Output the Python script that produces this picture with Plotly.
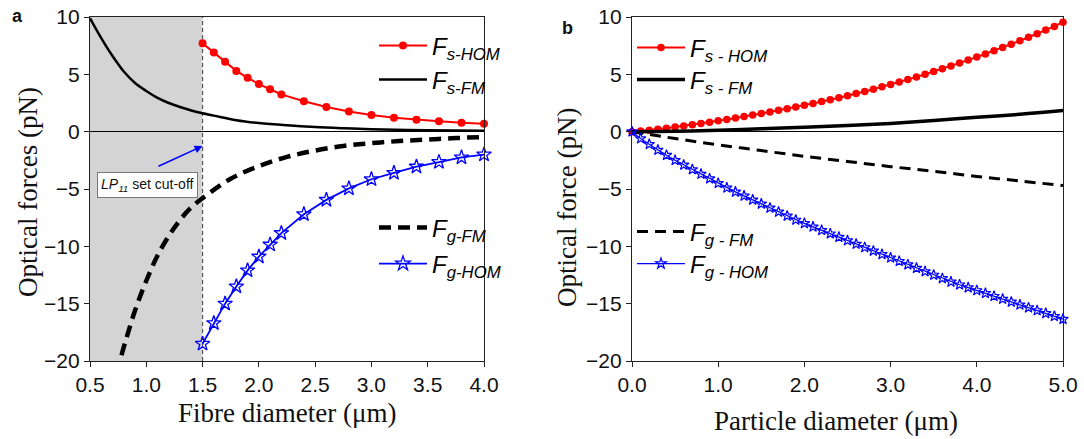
import plotly.graph_objects as go

# ---------------- data: panel a (fibre diameter) ----------------
x_hom = [1.5, 1.6, 1.7, 1.8, 1.9, 2.0, 2.1, 2.2, 2.4, 2.6, 2.8, 3.0, 3.2, 3.4, 3.6, 3.8, 4.0]
fs_hom_a = [7.7, 6.9, 6.1, 5.3, 4.7, 4.15, 3.7, 3.25, 2.65, 2.15, 1.75, 1.45, 1.22, 1.05, 0.9, 0.78, 0.68]
fg_hom_a = [-18.5, -16.7, -15.0, -13.5, -12.1, -10.9, -9.85, -8.85, -7.2, -5.95, -4.95, -4.15, -3.6, -3.05, -2.65, -2.25, -2.0]

x_sfm_a = [0.5, 0.55, 0.6, 0.65, 0.7, 0.75, 0.8, 0.9, 1.0, 1.1, 1.2, 1.3, 1.4, 1.5, 1.6, 1.8, 2.0, 2.25, 2.5, 2.75, 3.0, 3.5, 4.0]
fs_fm_a = [9.9, 9.0, 8.15, 7.35, 6.6, 5.9, 5.25, 4.25, 3.55, 2.95, 2.5, 2.15, 1.85, 1.6, 1.4, 1.0, 0.75, 0.55, 0.4, 0.3, 0.22, 0.13, 0.08]

x_gfm_a = [0.78, 0.8, 0.9, 1.0, 1.1, 1.2, 1.3, 1.4, 1.5, 1.75, 2.0, 2.25, 2.5, 2.75, 3.0, 3.25, 3.5, 3.75, 4.0]
fg_fm_a = [-19.5, -18.8, -15.6, -13.0, -10.8, -9.1, -7.7, -6.6, -5.8, -4.1, -3.0, -2.2, -1.65, -1.25, -1.0, -0.82, -0.68, -0.56, -0.46]

# ---------------- data: panel b (particle diameter) ----------------
x_b = [round(i * 0.1, 1) for i in range(51)]
fs_hom_b = [0.00, 0.06, 0.13, 0.21, 0.30, 0.40, 0.50, 0.61, 0.72, 0.83,
            0.95, 1.07, 1.19, 1.32, 1.45, 1.58, 1.72, 1.86, 2.00, 2.15,
            2.30, 2.46, 2.62, 2.79, 2.96, 3.14, 3.32, 3.51, 3.71, 3.91,
            4.12, 4.33, 4.55, 4.77, 5.00, 5.24, 5.48, 5.73, 5.98, 6.24,
            6.51, 6.78, 7.06, 7.34, 7.63, 7.93, 8.23, 8.54, 8.86, 9.18, 9.55]
fg_hom_b = [0.0, -0.6, -1.1, -1.6, -2.05, -2.5, -2.9, -3.3, -3.7, -4.1,
            -4.5, -4.9, -5.25, -5.6, -5.95, -6.3, -6.65, -7.0, -7.35, -7.7,
            -8.0, -8.3, -8.6, -8.9, -9.2, -9.5, -9.8, -10.1, -10.4, -10.7,
            -11.0, -11.3, -11.6, -11.9, -12.2, -12.5, -12.8, -13.1, -13.35, -13.6,
            -13.85, -14.1, -14.35, -14.6, -14.85, -15.1, -15.35, -15.6, -15.85, -16.1, -16.35]
x_b_fm = [0.0, 0.5, 1.0, 1.5, 2.0, 2.5, 3.0, 3.5, 4.0, 4.5, 5.0]
fs_fm_b = [0.0, 0.03, 0.12, 0.25, 0.38, 0.53, 0.72, 0.98, 1.25, 1.52, 1.85]
fg_fm_b = [0.0, -0.6, -1.15, -1.65, -2.15, -2.6, -3.05, -3.45, -3.9, -4.3, -4.7]

xticks_a = [0.5, 1.0, 1.5, 2.0, 2.5, 3.0, 3.5, 4.0]
xticks_b = [0.0, 1.0, 2.0, 3.0, 4.0, 5.0]
yticks = [-20, -15, -10, -5, 0, 5, 10]

W, H = 1084, 439
def px(v):
    return v / W
def py(v):
    return 1 - v / H

SANS = "Liberation Sans, Arial, sans-serif"
SERIF = "Liberation Serif, Times New Roman, serif"
RED = "#ff0000"
BLUE = "#0000ff"

def lab(sub):
    return "<i>F<sub>" + sub + "</sub></i>"

fig = go.Figure()

# panel a
fig.add_trace(go.Scatter(x=x_hom, y=fs_hom_a, mode="lines+markers", name=lab("s-HOM"),
                         line=dict(color=RED, width=2), marker=dict(symbol="circle", size=8, color=RED),
                         xaxis="x", yaxis="y", legend="legend", cliponaxis=False))
fig.add_trace(go.Scatter(x=x_sfm_a, y=fs_fm_a, mode="lines", name=lab("s-FM"), line_shape="spline",
                         line=dict(color="black", width=2.5), xaxis="x", yaxis="y", legend="legend2"))
fig.add_trace(go.Scatter(x=x_gfm_a, y=fg_fm_a, mode="lines", name=lab("g-FM"), line_shape="spline",
                         line=dict(color="black", width=4.5, dash="12px,7px"), xaxis="x", yaxis="y", legend="legend3"))
fig.add_trace(go.Scatter(x=x_hom, y=fg_hom_a, mode="lines+markers", name=lab("g-HOM"),
                         line=dict(color=BLUE, width=1.8),
                         marker=dict(symbol="star-open", size=11, color=BLUE, line=dict(width=1.3, color=BLUE)),
                         xaxis="x", yaxis="y", legend="legend4", cliponaxis=False))

# panel b
fig.add_trace(go.Scatter(x=x_b, y=fs_hom_b, mode="lines+markers", name=lab("s - HOM"),
                         line=dict(color=RED, width=2), marker=dict(symbol="circle", size=7.5, color=RED),
                         xaxis="x2", yaxis="y2", legend="legend5", cliponaxis=False))
fig.add_trace(go.Scatter(x=x_b_fm, y=fs_fm_b, mode="lines", name=lab("s - FM"), line_shape="spline",
                         line=dict(color="black", width=3.5), xaxis="x2", yaxis="y2", legend="legend6"))
fig.add_trace(go.Scatter(x=x_b_fm, y=fg_fm_b, mode="lines", name=lab("g - FM"), line_shape="spline",
                         line=dict(color="black", width=3, dash="11px,7px"), xaxis="x2", yaxis="y2", legend="legend7"))
fig.add_trace(go.Scatter(x=x_b, y=fg_hom_b, mode="lines+markers", name=lab("g - HOM"),
                         line=dict(color=BLUE, width=1.2),
                         marker=dict(symbol="star-open", size=8, color=BLUE, line=dict(width=1.2, color=BLUE)),
                         xaxis="x2", yaxis="y2", legend="legend8", cliponaxis=False))

axis_common = dict(showgrid=False, showline=True, mirror=True, linecolor="#222", linewidth=1.4,
                   ticks="outside", ticklen=5, tickwidth=1.3, tickcolor="#222",
                   tickfont=dict(family=SANS, size=21, color="#111"), automargin=False)

fig.update_layout(
    width=W, height=H, margin=dict(l=0, r=0, t=0, b=0),
    paper_bgcolor="white", plot_bgcolor="white",
    xaxis=dict(domain=[px(90), px(484)], range=[0.5, 4.0], tickvals=xticks_a,
               ticktext=[f"{v:.1f}" for v in xticks_a], anchor="y", zeroline=False, **axis_common),
    yaxis=dict(domain=[py(361), py(17)], range=[-20, 10], tickvals=yticks, anchor="x",
               zeroline=True, zerolinecolor="black", zerolinewidth=1.2, **axis_common),
    xaxis2=dict(domain=[px(632), px(1063)], range=[0, 5.0], tickvals=xticks_b,
                ticktext=[f"{v:.1f}" for v in xticks_b], anchor="y2", zeroline=False, **axis_common),
    yaxis2=dict(domain=[py(361), py(17)], range=[-20, 10], tickvals=yticks, anchor="x2",
                zeroline=True, zerolinecolor="black", zerolinewidth=1.2, **axis_common),
    showlegend=True,
)

leg_common = dict(bgcolor="rgba(0,0,0,0)", borderwidth=0, xanchor="left", yanchor="middle",
                  font=dict(family=SANS, size=24, color="black"), itemwidth=48)
legend_pos = {
    "legend": (374, 46), "legend2": (374, 80), "legend3": (374, 228), "legend4": (374, 264),
    "legend5": (632, 48), "legend6": (632, 80), "legend7": (632, 232), "legend8": (632, 264),
}
for k, (lx, ly) in legend_pos.items():
    fig.update_layout({k: dict(x=px(lx), y=py(ly), **leg_common)})

# shaded cut-off region and cut-off line
fig.add_shape(type="rect", xref="x", yref="y", x0=0.5, x1=1.5, y0=-20, y1=10,
              fillcolor="#d4d4d4", line=dict(width=0), layer="below")
fig.add_shape(type="line", xref="x", yref="y", x0=1.5, x1=1.5, y0=-20, y1=10,
              line=dict(color="#555", width=1.2, dash="4px,3px"), layer="below")

# annotations
fig.add_annotation(xref="x", yref="y", x=1.5, y=-1.25, ax=1.095, ay=-3.08, axref="x", ayref="y",
                   text="", showarrow=True, arrowhead=2, arrowsize=1, arrowwidth=1.6, arrowcolor=BLUE)

def note(x, y, text, size, family=SANS, angle=0, **kw):
    fig.add_annotation(xref="paper", yref="paper", x=px(x), y=py(y), text=text, showarrow=False,
                       xanchor="center", yanchor="middle", textangle=angle,
                       font=dict(family=family, size=size, color="#111"), **kw)

note(147.5, 185, "<i>LP<sub>11</sub></i> set cut-off", 14, bgcolor="white",
     bordercolor="#777", borderwidth=1, borderpad=3)
note(17, 16, "<b>a</b>", 18)
note(567, 28, "<b>b</b>", 18)

# axis titles
note(287, 413, "Fibre diameter (\u03bcm)", 27, family=SERIF)
note(836, 421, "Particle diameter (\u03bcm)", 27, family=SERIF)
note(28, 192, "Optical forces (pN)", 27, family=SERIF, angle=-90)
note(567, 208, "Optical force (pN)", 27, family=SERIF, angle=-90)

fig.write_html("out.html", config={"displayModeBar": False},
               post_script="document.body.style.margin='0';document.body.style.overflow='hidden';")
